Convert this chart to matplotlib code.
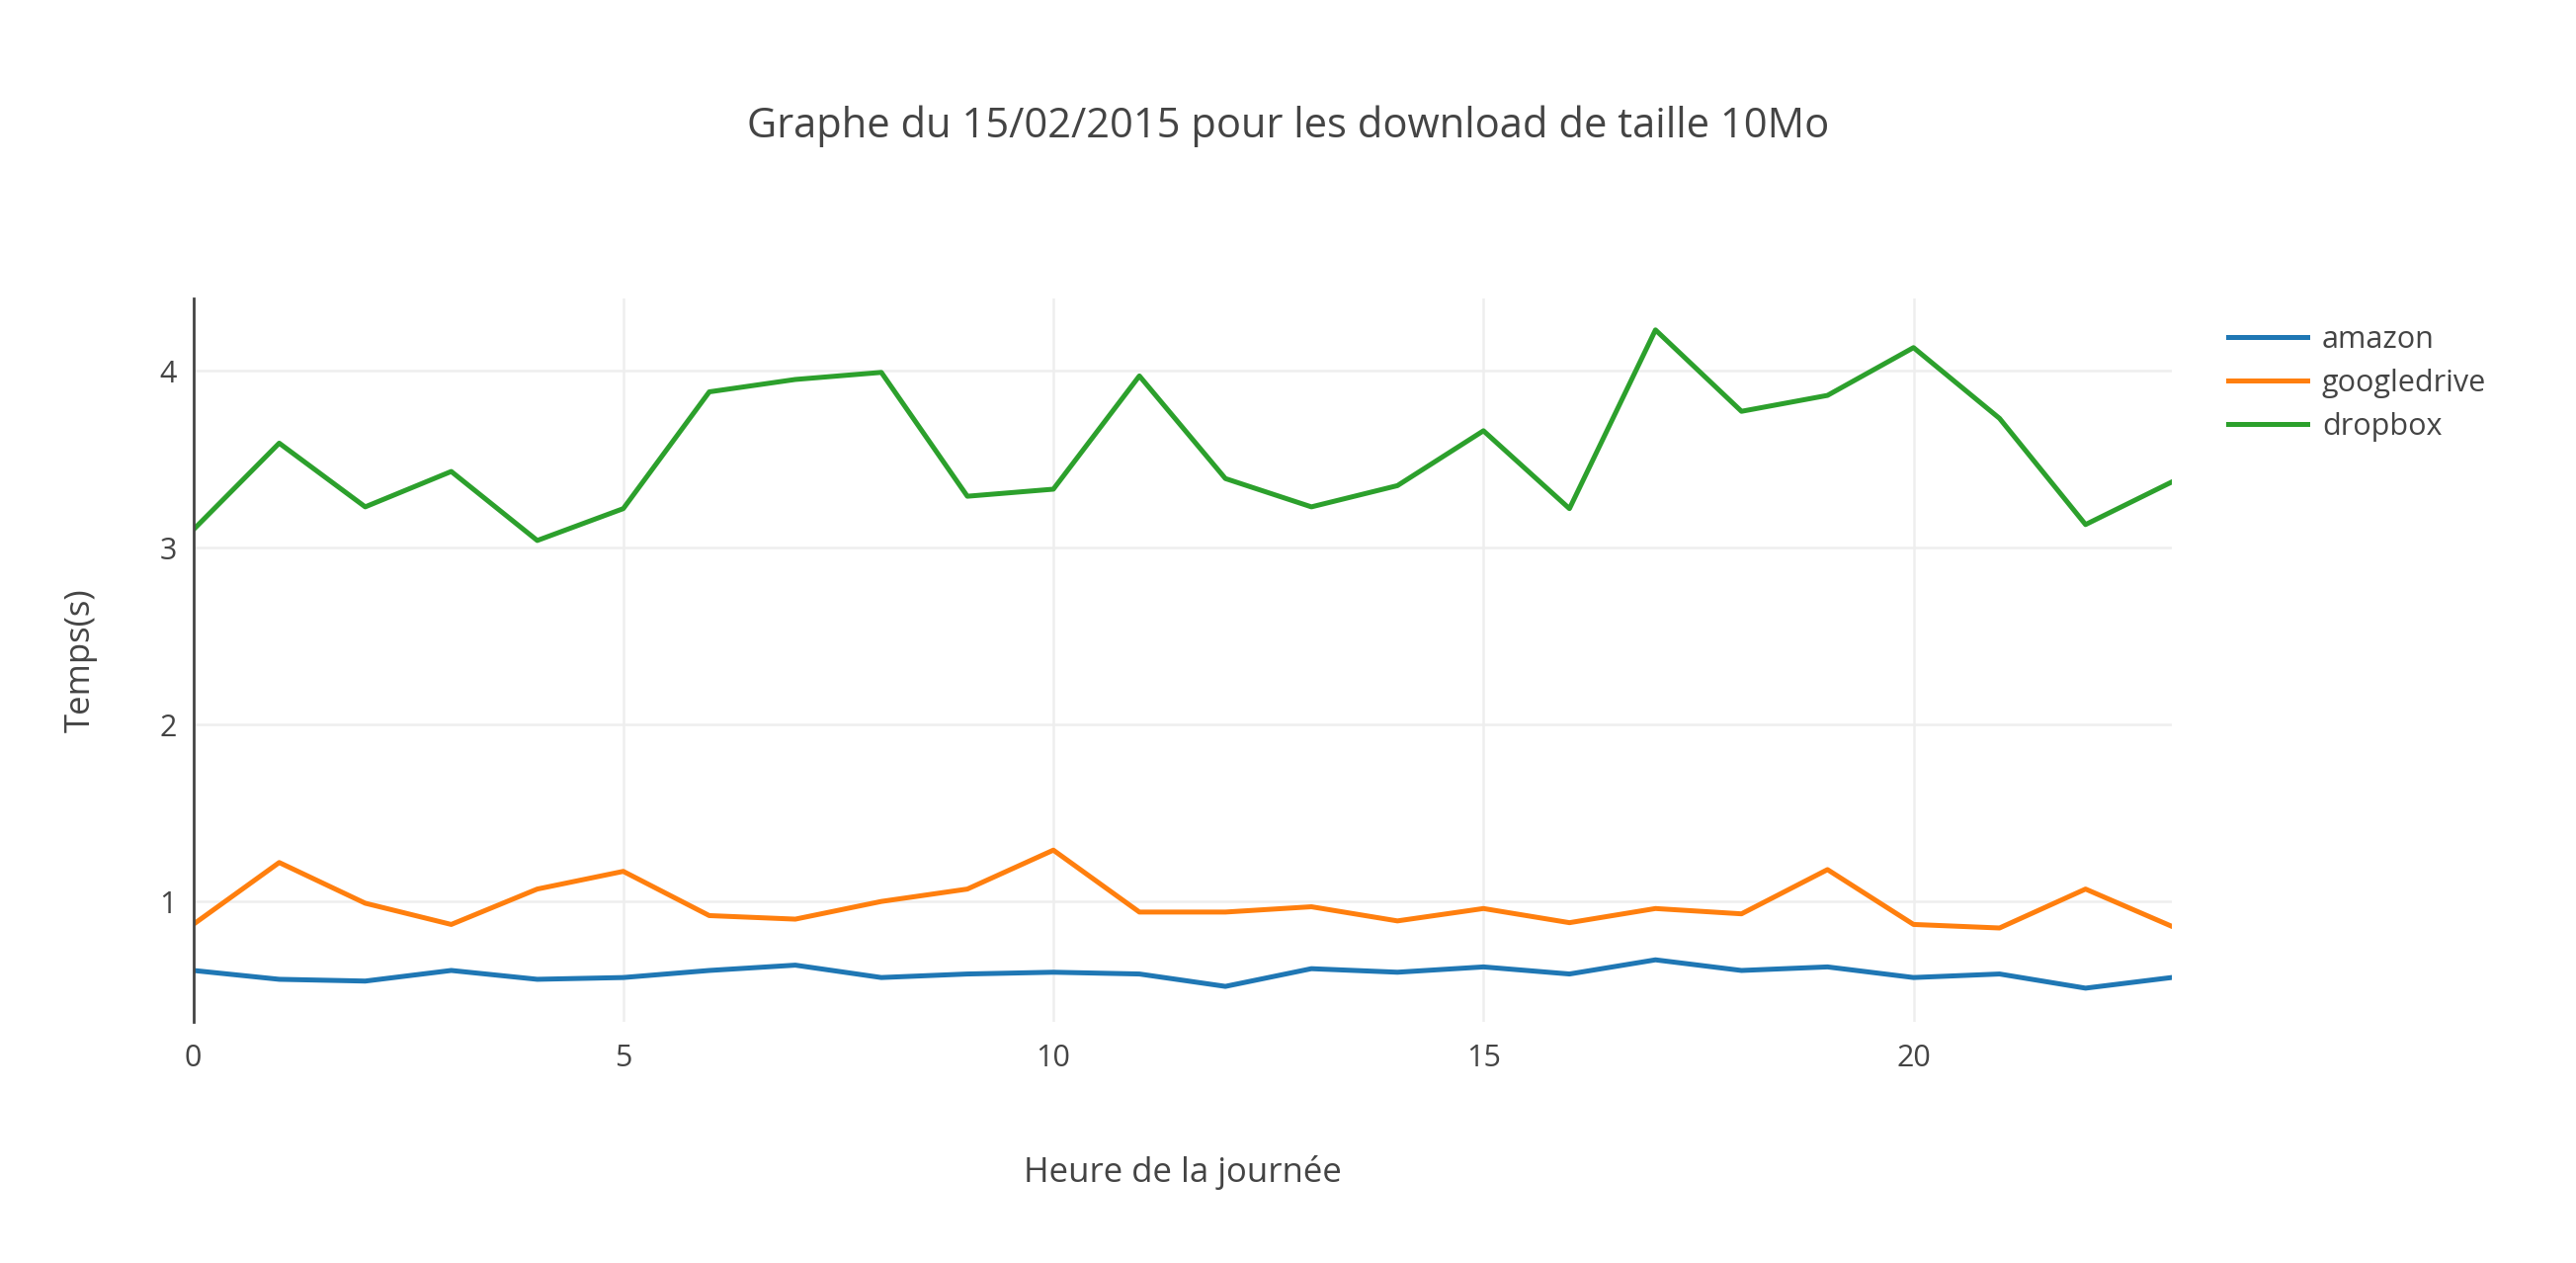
import matplotlib.pyplot as plt

heures = list(range(24))
amazon = [0.61, 0.56, 0.55, 0.61, 0.56, 0.57, 0.61, 0.64, 0.57, 0.59, 0.60, 0.59,
          0.52, 0.62, 0.60, 0.63, 0.59, 0.67, 0.61, 0.63, 0.57, 0.59, 0.51, 0.57]
googledrive = [0.87, 1.22, 0.99, 0.87, 1.07, 1.17, 0.92, 0.90, 1.00, 1.07, 1.29, 0.94,
               0.94, 0.97, 0.89, 0.96, 0.88, 0.96, 0.93, 1.18, 0.87, 0.85, 1.07, 0.86]
dropbox = [3.10, 3.59, 3.23, 3.43, 3.04, 3.22, 3.88, 3.95, 3.99, 3.29, 3.33, 3.97,
           3.39, 3.23, 3.35, 3.66, 3.22, 4.23, 3.77, 3.86, 4.13, 3.73, 3.13, 3.37]

plt.rcParams['font.family'] = ['Open Sans', 'DejaVu Sans']
fig = plt.figure(figsize=(26.07, 12.78), dpi=100)
ax = fig.add_axes([0.075, 0.191, 0.768, 0.573])

# une courbe par service
ax.plot(heures, amazon, color='#1f77b4', lw=3.6, label='amazon')
ax.plot(heures, googledrive, color='#ff7f0e', lw=3.6, label='googledrive')
ax.plot(heures, dropbox, color='#2ca02c', lw=3.6, label='dropbox')

ax.set_xlim(0, 23)
ax.set_ylim(0.32, 4.41)
ax.set_xticks([0, 5, 10, 15, 20])
ax.set_yticks([1, 2, 3, 4])
ax.grid(True, color='#eeeeee', lw=1.8)
ax.set_axisbelow(True)
for s in ['top', 'right', 'bottom']:
    ax.spines[s].set_visible(False)
ax.spines['left'].set_color('#444444')
ax.spines['left'].set_linewidth(2)
ax.tick_params(length=0, labelsize=22, colors='#444444', pad=12)
ax.tick_params(axis='x', pad=16)

ax.set_xlabel('Heure de la journée', fontsize=25, color='#444444', labelpad=60)
ax.set_ylabel('Temps(s)', fontsize=25, color='#444444', labelpad=45)
fig.text(0.5, 0.9, 'Graphe du 15/02/2015 pour les download de taille 10Mo',
         ha='center', va='center', fontsize=30, color='#444444')

ax.legend(loc='upper left', bbox_to_anchor=(1.015, 1.0), frameon=False,
          fontsize=22, labelcolor='#444444', handlelength=2.6, handletextpad=0.5,
          labelspacing=0.45)

fig.savefig('out.png')
